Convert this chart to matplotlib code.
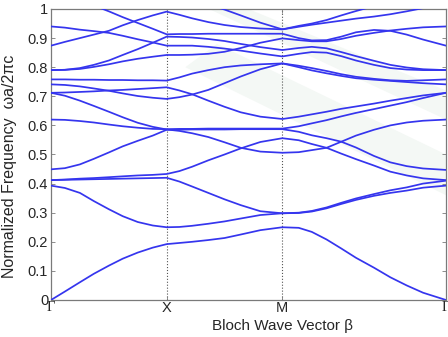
import numpy as np
import matplotlib
matplotlib.use("Agg")
import matplotlib.pyplot as plt
from matplotlib.patches import Polygon

plt.rcParams['font.family'] = ['Liberation Sans', 'DejaVu Sans']

# fractional positions of the samples along each leg of the path
t_gx = [0, .12, .25, .37, .5, .62, .75, .88, 1.0]            # Gamma -> X
t_xm = [.11, .22, .36, .5, .64, .81, 1.0]                     # X -> M
t_mg = [.1, .18, .27, .36, .45, .56, .66, .76, .86, 1.0]      # M -> Gamma

nan = np.nan

# band frequencies (omega a / 2 pi c), Gamma-X | X-M | M-Gamma
band_gx = [
    [0, .029, .061, .09, .118, .142, .163, .18, .192],
    [.393, .385, .368, .34, .312, .288, .268, .256, .25],
    [.412, .413, .414, .415, .416, .417, .418, .419, .42],
    [.412, .414, .417, .419, .422, .425, .428, .43, .433],
    [.449, .453, .466, .485, .507, .528, .547, .565, .585],
    [.62, .619, .615, .61, .603, .597, .592, .588, .587],
    [.712, .702, .685, .667, .647, .628, .609, .595, .586],
    [.712, .713, .715, .717, .72, .722, .725, .728, .731],
    [.741, .739, .734, .727, .719, .71, .701, .695, .691],
    [.758, .758, .757, .757, .756, .756, .755, .755, .754],
    [.79, .791, .794, .801, .81, .82, .829, .836, .842],
    [.79, .791, .797, .808, .823, .842, .862, .884, .905],
    [.94, .936, .929, .924, .918, .908, .896, .885, .874],
    [.874, .887, .9, .912, .925, .944, .962, .978, .991],
    [nan, nan, nan, 1.012, .992, .972, .952, .932, .913],
    [nan, nan, nan, nan, nan, nan, nan, nan, 1.05],
]
band_xm = [
    [.196, .2, .206, .213, .225, .24, .25],
    [.251, .255, .262, .27, .28, .292, .298],
    [.407, .39, .368, .346, .326, .305, .298],
    [.443, .458, .48, .5, .521, .543, .556],
    [.585, .586, .586, .586, .587, .587, .587],
    [.588, .588, .589, .589, .589, .589, .589],
    [.581, .573, .56, .542, .523, .51, .506],
    [.72, .707, .685, .664, .645, .63, .622],
    [.697, .706, .722, .745, .768, .793, .813],
    [.765, .778, .79, .8, .806, .81, .813],
    [.842, .843, .846, .853, .866, .884, .899],
    [.904, .902, .897, .89, .88, .869, .859],
    [.874, .874, .87, .864, .857, .847, .837],
    [.98, .968, .955, .945, .938, .933, .93],
    [.914, .914, .915, .915, .915, .915, .915],
    [1.04, 1.03, 1.015, .998, .978, .953, .93],
]
band_mg = [
    [.248, .234, .208, .177, .145, .111, .078, .05, .025, 0],
    [.299, .304, .315, .33, .344, .358, .368, .376, .386, .393],
    [.3, .306, .318, .334, .349, .364, .377, .387, .4, .41],
    [.549, .536, .523, .503, .484, .462, .441, .428, .418, .412],
    [.578, .566, .556, .544, .524, .495, .473, .46, .452, .447],
    [.597, .607, .618, .631, .643, .656, .668, .68, .694, .712],
    [.508, .515, .523, .544, .565, .585, .6, .61, .616, .62],
    [.63, .638, .647, .657, .665, .675, .685, .694, .703, .712],
    [.805, .797, .787, .776, .767, .76, .755, .753, .755, .758],
    [.8, .789, .779, .77, .762, .757, .753, .749, .745, .741],
    [.893, .889, .889, .897, .908, .918, .926, .932, .937, .94],
    [.866, .87, .865, .852, .838, .822, .808, .799, .793, .79],
    [.846, .852, .85, .838, .823, .808, .797, .792, .79, .79],
    [.942, .95, .962, .978, .993, 1.01, nan, nan, nan, nan],
    [.9, .892, .893, .905, .92, .928, .925, .912, .895, .874],
    [.939, .946, .953, .96, .967, .974, .982, .992, 1.003, nan],
]

sym_labels = ['\u0393', 'X', 'M', '\u0393']

root2 = np.sqrt(2.0)
k_path = np.concatenate([np.array(t_gx),
                         1 + np.array(t_xm),
                         2 + root2 * np.array(t_mg)])
k_sym = [0, 1, 2, 2 + root2]

fig = plt.figure(figsize=(4.48, 3.37), dpi=100)
ax = fig.add_axes([0.1138, 0.1098, 0.8817, 0.8635])

# faint diagonal watermark in the background
wm = '#f4f8f5'
ax.add_patch(Polygon([[0.34, 0.80], [0.42, 0.88], [1.0, 0.50], [1.0, 0.36]],
                     closed=True, transform=ax.transAxes, facecolor=wm,
                     edgecolor='none', zorder=0))
ax.add_patch(Polygon([[0.40, 1.0], [0.50, 1.0], [1.0, 0.72], [1.0, 0.62]],
                     closed=True, transform=ax.transAxes, facecolor=wm,
                     edgecolor='none', zorder=0))

for gx, xm, mg in zip(band_gx, band_xm, band_mg):
    f = np.concatenate([gx, xm, mg])
    ax.plot(k_path, f, color='#3535ee', lw=1.25, zorder=3,
            solid_capstyle='round', solid_joinstyle='round')

for ks in k_sym[1:3]:
    ax.axvline(ks, color='#555555', lw=0.8, ls=':', zorder=1)

ax.set_xlim(0, 2 + root2)
ax.set_ylim(0, 1)
ax.set_xticks(k_sym)
ax.set_xticklabels(sym_labels)
for lab, txt in zip(ax.get_xticklabels(), sym_labels):
    if txt == '\u0393':
        lab.set_fontfamily('Liberation Serif')
        lab.set_fontsize(13)
    else:
        lab.set_fontsize(11)
ax.set_yticks(np.arange(0, 1.01, 0.1))
ax.set_yticklabels(['0'] + ['%.1f' % v for v in np.arange(0.1, 0.95, 0.1)] + ['1'])

ax.tick_params(direction='in', length=3, width=0.6, colors='#7a7a7a',
               labelcolor='#262626', labelsize=10.5, top=True, right=True,
               pad=2)
ax.tick_params(axis='x', pad=1)
for sp in ax.spines.values():
    sp.set_color('#7a7a7a')
    sp.set_linewidth(0.9)

ax.set_xlabel('Bloch Wave Vector \u03b2', fontsize=11, color='#262626')
ax.xaxis.set_label_coords(0.585, -0.065)
ax.set_ylabel('Normalized Frequency  \u03c9a/2\u03c0c', fontsize=11.5,
              color='#262626')
ax.yaxis.set_label_coords(-0.085, 0.46)

fig.savefig('out.png', dpi=100)
